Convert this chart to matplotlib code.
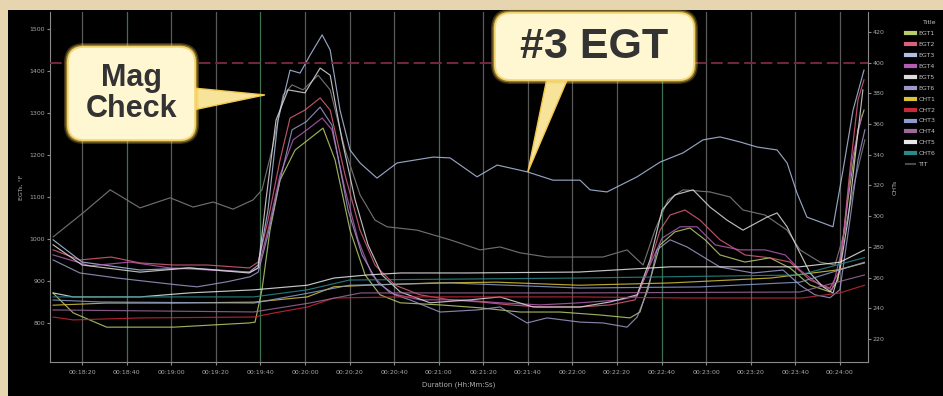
import matplotlib

matplotlib.use('Agg')
import matplotlib.pyplot as plt
from matplotlib.lines import Line2D
from matplotlib.patches import FancyBboxPatch, Polygon, Rectangle
from matplotlib.transforms import IdentityTransform

# engine monitor log: time in seconds, EGT/TIT in deg F (left), CHT in deg F (right)
egt1_t = [1087, 1096, 1111, 1141, 1175, 1177.6, 1180.7, 1184.3, 1188.8, 1195.6, 1201.4, 1208.1, 1213.5,
          1220.2, 1227, 1233.7, 1242.7, 1260.6, 1278.5, 1296.5, 1314.4, 1332.4, 1345.8, 1350.3, 1354.8,
          1359.3, 1366, 1372.7, 1379.5, 1386.2, 1397.4, 1408.6, 1417.6, 1426.6, 1435.5, 1439.1, 1443.6,
          1448.1, 1450.8]
egt1_v = [871, 824, 790, 790, 800, 802, 879, 1021, 1140, 1212, 1236, 1264, 1188,
          1021, 914, 867, 848, 843, 836, 826, 826, 819, 812, 826, 902,
          986, 1017, 1026, 998, 962, 945, 955, 931, 890, 874, 902, 1093,
          1260, 1307]

egt2_t = [1087, 1099, 1113, 1126, 1141, 1156, 1175, 1179, 1183.4, 1188.8,
          1193.3, 1200, 1206.8, 1211.3, 1218, 1224.7, 1231.4, 1240.4, 1251.6, 1265.1,
          1278.5, 1292, 1305.5, 1323.4, 1336.9, 1348.1, 1353.9, 1359.3, 1363.8, 1370.5,
          1377.2, 1386.2, 1397.4, 1408.6, 1417.6, 1426.6, 1435.5, 1440, 1444.5, 1448.1, 1450.8]
egt2_v = [974, 950, 957, 943, 938, 938, 931, 945, 1045, 1188,
          1288, 1307, 1336, 1307, 1152, 1021, 938, 890, 867, 855,
          850, 843, 838, 838, 843, 855, 926, 1021, 1057, 1069,
          1045, 998, 962, 955, 945, 902, 883, 926, 1164, 1331, 1379]

egt3_t = [1087, 1100, 1126, 1148, 1175, 1179, 1183.4, 1187.9, 1193.3, 1197.8,
          1202.3, 1207.7, 1211.3, 1215.7, 1220.2, 1224.7, 1232.3, 1241.3, 1257.5, 1265.1,
          1277.2, 1286.2, 1299.6, 1311.3, 1323.4, 1327.9, 1335.5, 1349, 1359.3, 1369.6,
          1378.6, 1386.2, 1395.2, 1402.8, 1411.8, 1416.3, 1420.7, 1425.2, 1432.4, 1436.9,
          1441.4, 1445.9, 1450.8]
egt3_v = [998, 945, 926, 931, 921, 938, 1069, 1283, 1402, 1395,
          1438, 1486, 1450, 1307, 1212, 1181, 1145, 1181, 1195, 1193,
          1148, 1176, 1160, 1140, 1140, 1117, 1112, 1148, 1183, 1205,
          1236, 1243, 1231, 1219, 1212, 1181, 1110, 1052, 1038, 1029,
          1164, 1307, 1402]

egt4_t = [1087, 1103.6, 1121.5, 1139.5, 1157.4, 1175.4, 1179, 1183.4, 1188.8, 1194.7,
          1200.9, 1207.7, 1212.1, 1218, 1223.8, 1230.1, 1238.2, 1251.6, 1269.6, 1287.5,
          1305.5, 1323.4, 1341.4, 1349, 1354.8, 1360.2, 1368.3, 1375.9, 1384, 1395.2,
          1406.4, 1415.4, 1422.1, 1431, 1436.4, 1440.9, 1445.4, 1449.9]
egt4_v = [962, 936, 945, 931, 926, 921, 931, 1021, 1152, 1236,
          1260, 1288, 1260, 1117, 998, 914, 871, 855, 855, 848,
          843, 848, 855, 864, 938, 1002, 1029, 1029, 986, 974,
          974, 962, 926, 890, 879, 974, 1188, 1295]

egt5_t = [1087, 1100, 1126, 1148, 1175, 1179, 1182.5, 1187, 1192.4, 1200,
          1206.8, 1211.3, 1216.6, 1222.5, 1228.3, 1234.6, 1242.7, 1256.1, 1274.1, 1287.5,
          1302.3, 1323.4, 1336.9, 1349, 1354.8, 1360.2, 1366, 1374.1, 1381.7, 1389.3,
          1396.5, 1407.3, 1411.8, 1416.3, 1420.7, 1426.6, 1432.4, 1436.9, 1440, 1443.6,
          1447.7, 1450.3]
egt5_v = [986, 938, 921, 931, 919, 931, 1093, 1283, 1355, 1348,
          1407, 1390, 1236, 1093, 986, 914, 874, 848, 855, 862,
          838, 838, 850, 867, 950, 1069, 1105, 1117, 1076, 1045,
          1021, 1052, 1062, 1029, 981, 919, 886, 871, 926, 1045,
          1236, 1355]

egt6_t = [1087, 1099, 1115.7, 1130.5, 1144, 1151.6, 1165, 1175.4, 1179, 1183.4,
          1188.8, 1194.2, 1200.5, 1206.8, 1212.1, 1219.3, 1225.6, 1232.8, 1240.4, 1247.1,
          1260.6, 1277.2, 1287.5, 1299.6, 1308.6, 1323.4, 1333.7, 1344.5, 1349, 1353.9,
          1357.9, 1363.8, 1371.4, 1386.2, 1401, 1414.5, 1422.1, 1428.8, 1435.5, 1440,
          1444.5, 1448.1, 1451.2]
egt6_v = [950, 919, 907, 898, 890, 886, 898, 910, 921, 1010,
          1140, 1260, 1279, 1314, 1271, 1069, 962, 895, 867, 855,
          826, 831, 838, 800, 812, 802, 800, 790, 814, 879,
          974, 998, 981, 933, 919, 926, 890, 867, 860, 879,
          1045, 1188, 1260]

tit_t = [1087, 1100.4, 1112.6, 1126, 1139.5, 1149.8, 1158.8, 1167.7, 1176.7, 1180.7,
         1185.2, 1190.2, 1194.2, 1199.1, 1205.9, 1211.3, 1218, 1224.7, 1231.4, 1236.8,
         1250.3, 1265.1, 1278.5, 1287.5, 1296.5, 1308.6, 1323.4, 1333.7, 1344.5, 1351.7,
         1357, 1362.9, 1369.6, 1381.7, 1390.7, 1396.5, 1406.4, 1416.3, 1422.1, 1431,
         1437.8, 1442.3, 1446.8, 1451.2]
tit_v = [1005, 1062, 1117, 1074, 1098, 1076, 1088, 1071, 1093, 1117,
         1212, 1343, 1367, 1355, 1390, 1355, 1212, 1105, 1045, 1029,
         1021, 998, 974, 981, 967, 957, 957, 957, 974, 938,
         1021, 1093, 1117, 1112, 1100, 1069, 1057, 1021, 974, 945,
         938, 1021, 1140, 1236]

cht1_t = [1087, 1111, 1141, 1177, 1201, 1213, 1228, 1258, 1286, 1323, 1364, 1409, 1439, 1451]
cht1_v = [242, 243.4, 243.4, 244, 247.4, 254, 255, 256.5, 257, 255, 256.5, 259.7, 265, 269.5]
cht2_t = [1087, 1096, 1126, 1177, 1186, 1201, 1213, 1243, 1273, 1323, 1370, 1423, 1440, 1451]
cht2_v = [234.3, 232.4, 233.7, 234.3, 236.9, 240.8, 246.7, 247.4, 247.4, 247.4, 246.7, 246.7, 250, 255]
cht3_t = [1087, 1108, 1177, 1202, 1220, 1265, 1323, 1377, 1422, 1451]
cht3_v = [245.4, 244.1, 243.4, 250, 255, 256.5, 253.2, 253.9, 257, 270]
cht4_t = [1087, 1177, 1202, 1225, 1323, 1422, 1451]
cht4_v = [238.9, 237.6, 243.4, 250, 250, 250.6, 261.7]
cht5_t = [1087, 1096, 1126, 1148, 1177, 1201, 1213, 1228, 1243, 1273, 1323, 1364, 1422, 1440, 1451]
cht5_v = [250, 247.4, 247.4, 250, 252, 255, 259.7, 261.7, 263, 263, 263.6, 267, 267, 270, 278]
cht6_t = [1087, 1177, 1201, 1220, 1323, 1422, 1451]
cht6_v = [247.4, 247.4, 252, 258.4, 259.7, 261.7, 273]

cht_redline = 400

tick_secs = list(range(1100, 1441, 20))
tick_labels = ['00:18:20', '00:18:40', '00:19:00', '00:19:20', '00:19:40', '00:20:00',
               '00:20:20', '00:20:40', '00:21:00', '00:21:20', '00:21:40', '00:22:00',
               '00:22:20', '00:22:40', '00:23:00', '00:23:20', '00:23:40', '00:24:00']
egt_ticks = [800, 900, 1000, 1100, 1200, 1300, 1400, 1500]
cht_ticks = [220, 240, 260, 280, 300, 320, 340, 360, 380, 400, 420]

W, H = 943, 396
fig = plt.figure(figsize=(W / 100, H / 100), dpi=100, facecolor='black')

# beige frame on top and left edges
fig.add_artist(Rectangle((0, 1 - 10 / H), 1, 10 / H, transform=fig.transFigure,
                         facecolor='#e6d5ae', edgecolor='none', zorder=0))
fig.add_artist(Rectangle((0, 0), 8 / W, 1, transform=fig.transFigure,
                         facecolor='#e6d5ae', edgecolor='none', zorder=0))

ax = fig.add_axes([50 / W, 34 / H, 818 / W, 350 / H])
ax.set_facecolor('black')
ax2 = ax.twinx()

ax.set_xlim(1085.6, 1452.6)
ax.set_ylim(707, 1540.5)
ax2.set_ylim(205, 433)

# vertical grid, a few of them tinted green
green_idx = [1, 4, 8, 13]
for i, s in enumerate(tick_secs):
    c = '#3f7050' if i in green_idx else '#595959'
    ax.axvline(s, color=c, lw=0.9, zorder=1)

ax2.axhline(cht_redline, color='#74273f', lw=1.4, dashes=(6, 2.5), zorder=2)

egt_series = [
    ('EGT1', egt1_t, egt1_v, '#b9cc6a'),
    ('EGT2', egt2_t, egt2_v, '#d9607a'),
    ('EGT3', egt3_t, egt3_v, '#aebfe0'),
    ('EGT4', egt4_t, egt4_v, '#b45cb4'),
    ('EGT5', egt5_t, egt5_v, '#dcdcdc'),
    ('EGT6', egt6_t, egt6_v, '#9d98c8'),
]
cht_series = [
    ('CHT1', cht1_t, cht1_v, '#d8c23a'),
    ('CHT2', cht2_t, cht2_v, '#c8283a'),
    ('CHT3', cht3_t, cht3_v, '#8c9ccc'),
    ('CHT4', cht4_t, cht4_v, '#9a6a9a'),
    ('CHT5', cht5_t, cht5_v, '#e8e8e8'),
    ('CHT6', cht6_t, cht6_v, '#2a8a8a'),
]

handles = []
ax.plot(tit_t, tit_v, color='#6e6e6e', lw=0.85, zorder=3)
for name, t, v, c in egt_series:
    ax.plot(t, v, color=c, lw=0.85, alpha=0.85, zorder=4)
    handles.append(Line2D([], [], color=c, lw=3, label=name))
for name, t, v, c in cht_series:
    ax2.plot(t, v, color=c, lw=0.85, alpha=0.85, zorder=3)
    handles.append(Line2D([], [], color=c, lw=3, label=name))
handles.append(Line2D([], [], color='#4a4a4a', lw=1.5, label='TIT'))

# axes styling
for sp in ['top', 'right']:
    ax.spines[sp].set_visible(False)
for sp in ['top', 'left', 'bottom']:
    ax2.spines[sp].set_visible(False)
ax.spines['left'].set_color('#8a8a8a')
ax.spines['bottom'].set_color('#8a8a8a')
ax2.spines['right'].set_color('#8a8a8a')

ax.set_xticks(tick_secs)
ax.set_xticklabels(tick_labels)
ax.set_yticks(egt_ticks)
ax.set_yticklabels([str(v) for v in egt_ticks])
ax2.set_yticks(cht_ticks)
ax2.set_yticklabels([str(v) for v in cht_ticks])
ax.tick_params(axis='x', colors='#8a8a8a', labelcolor='#a8a8a8', labelsize=4.5, length=2.5, pad=3)
ax.tick_params(axis='y', colors='#8a8a8a', labelcolor='#a8a8a8', labelsize=4.5, length=2.5, pad=1)
ax2.tick_params(axis='y', colors='#8a8a8a', labelcolor='#a8a8a8', labelsize=4.5, length=2.5, pad=1)

ax.set_xlabel('Duration (Hh:Mm:Ss)', color='#b0b0b0', fontsize=5, labelpad=5)
ax.set_ylabel('EGTs, °F', color='#b0b0b0', fontsize=4.5, labelpad=4)
ax2.set_ylabel('CHTs', color='#b0b0b0', fontsize=4.5, labelpad=6)

leg = fig.legend(handles=handles, loc='upper left', bbox_to_anchor=(906 / W, 1 - 31 / H),
                 frameon=False, fontsize=4.5, handlelength=1.5, handleheight=0.5,
                 handletextpad=0.5, labelspacing=0.95, borderaxespad=0, borderpad=0)
for txt in leg.get_texts():
    txt.set_color('#c0c0c0')
fig.text(930 / W, 1 - 22 / H, 'Title', color='#c0c0c0', fontsize=4.5, ha='center', va='center')

# speech-bubble callouts
ident = IdentityTransform()


def callout(text, left, top, right, bottom, base, tip, size):
    x0, y0 = left, H - bottom
    w, h = right - left, bottom - top
    tx, ty = ax.transData.transform(tip)
    tail = Polygon([(base[0][0], H - base[0][1]), (base[1][0], H - base[1][1]), (tx, ty)],
                   closed=True, transform=ident, facecolor='#f8e39a', edgecolor='#f0c850',
                   lw=1, zorder=10)
    fig.add_artist(tail)
    for grow, a in [(4, 0.25), (2.5, 0.45), (1.2, 0.7)]:
        fig.add_artist(FancyBboxPatch((x0 - grow, y0 - grow), w + 2 * grow, h + 2 * grow,
                                      boxstyle='round,pad=0,rounding_size=%g' % (16 + grow),
                                      transform=ident, facecolor='#f2c94c', edgecolor='none',
                                      alpha=a, zorder=11))
    fig.add_artist(FancyBboxPatch((x0, y0), w, h, boxstyle='round,pad=0,rounding_size=16',
                                  transform=ident, facecolor='#fff6d2', edgecolor='#f5d877',
                                  lw=1.2, zorder=12))
    fig.text((left + right) / 2 / W, 1 - (top + bottom) / 2 / H, text, ha='center', va='center',
             fontsize=size, fontweight='bold', family='Liberation Sans', color='#333333',
             linespacing=1.05, zorder=13)


callout('Mag\nCheck', 68, 47, 195, 140, [(193, 88), (193, 110)], (1182, 1343), 22)
callout('#3 EGT', 495, 13, 694, 80, [(547, 78), (568, 78)], (1300, 1160), 31)

fig.savefig('out.png', dpi=100, facecolor='black')
